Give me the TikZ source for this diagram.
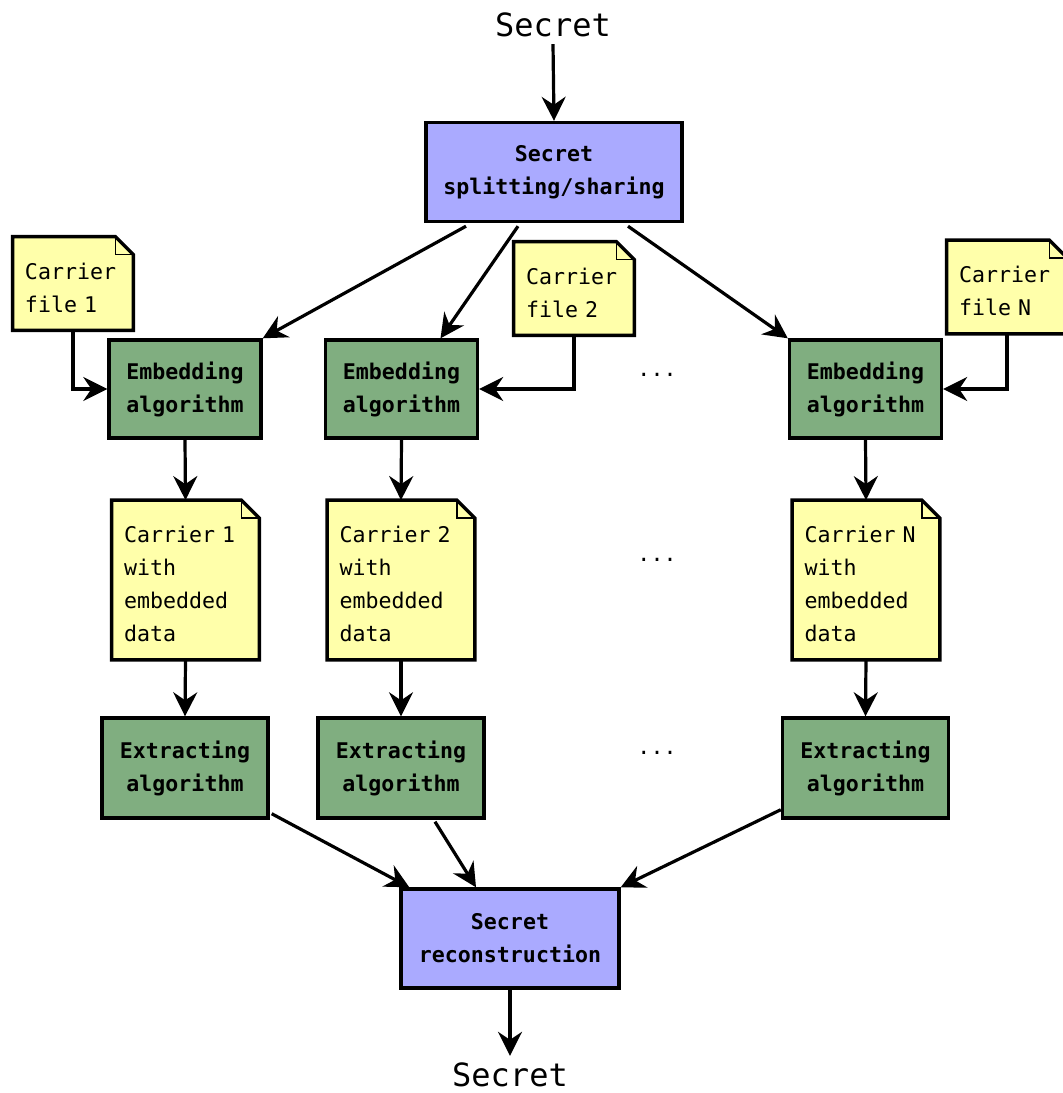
\documentclass[tikz,border=0pt]{standalone}
\usepackage{fontspec}
\setmonofont{DejaVu Sans Mono}
\usepackage{tikz}
\usetikzlibrary{arrows.meta,calc,backgrounds}
\definecolor{splitblue}{RGB}{170,170,255}
\definecolor{algogreen}{RGB}{128,174,128}
\definecolor{noteyellow}{RGB}{255,255,170}
\tikzstyle{line} = [draw, line width=1.6pt, -{Stealth[length=12pt,width=12pt,inset=4pt]}]
\tikzstyle{secretbox} = [rectangle, draw, line width=1.7pt, fill=splitblue, align=center, font=\ttfamily\bfseries\fontsize{10.8}{16.5}\selectfont]
\tikzstyle{algo} = [rectangle, draw, line width=1.7pt, fill=algogreen, align=center, font=\ttfamily\bfseries\fontsize{10.8}{16.5}\selectfont]
\tikzstyle{note} = [rectangle, inner xsep=6pt, align=left, font=\ttfamily\fontsize{10.8}{16.5}\selectfont]
\tikzstyle{plain} = [font=\ttfamily\fontsize{16}{18}\selectfont]

\begin{document}
\begin{tikzpicture}[x=0.5pt, y=-0.5pt]
	\useasboundingbox (0,0) rectangle (1062,1093);
	
	\node [plain] (secretin) at (553,25) {Secret};
	\node [secretbox, minimum width=128pt, minimum height=49.5pt] (split) at (554,172) {Secret\\splitting/sharing};
	
	\node [note, text width=48pt, minimum height=46.5pt] (cf1) at (73,287.5) {Carrier\\file 1};
	\node [note, text width=48pt, minimum height=46.5pt] (cf2) at (574,292.5) {Carrier\\file 2};
	\node [note, text width=48pt, minimum height=46.5pt] (cfN) at (1007,291) {Carrier\\file N};
	
	\node [algo, minimum width=76pt, minimum height=49pt] (emb1) at (185,389) {Embedding\\algorithm};
	\node [algo, minimum width=76pt, minimum height=49pt] (emb2) at (401.5,389) {Embedding\\algorithm};
	\node [algo, minimum width=76pt, minimum height=49pt] (embN) at (865.5,389) {Embedding\\algorithm};
	\node [note] (dots1) at (657,375) {...};
	
	\node [note, text width=61.5pt, minimum height=79.5pt] (cd1) at (185.5,584) {Carrier 1\\with\\embedded\\data};
	\node [note, text width=61.5pt, minimum height=79.5pt] (cd2) at (401,584) {Carrier 2\\with\\embedded\\data};
	\node [note, text width=61.5pt, minimum height=79.5pt] (cdN) at (866,584) {Carrier N\\with\\embedded\\data};
	\node [note] (dots2) at (657,560) {...};
	
	\node [algo, minimum width=83pt, minimum height=50pt] (ext1) at (185,768) {Extracting\\algorithm};
	\node [algo, minimum width=83pt, minimum height=50pt] (ext2) at (401,768) {Extracting\\algorithm};
	\node [algo, minimum width=83pt, minimum height=50pt] (extN) at (865.5,768) {Extracting\\algorithm};
	\node [note] (dots3) at (657,753) {...};
	
	\node [secretbox, minimum width=109pt, minimum height=49.5pt] (recon) at (510,938.5) {Secret\\reconstruction};
	\node [plain] (secretout) at (510,1075) {Secret};
	
	% paper sheets with a folded corner
	\begin{scope}[on background layer]
	\foreach \n in {cf1,cf2,cfN,cd1,cd2,cdN} {
		\draw [line width=1.7pt, fill=noteyellow] ($(\n.south west)+(0,-4)$) -- ($(\n.north west)+(0,-4)$) -- ($(\n.north east)+(-18,-4)$) -- ($(\n.north east)+(0,14)$) -- ($(\n.south east)+(0,-4)$) -- cycle;
		\draw [line width=0.8pt] ($(\n.north east)+(-18,-4)$) |- ($(\n.north east)+(0,14)$);
	}
	\end{scope}
	
	\path [line] (secretin.south) to (split.north);
	\path [line] ($(split.south)+(-88,3)$) to (emb1.north east);
	\path [line] ($(split.south)+(-36,3)$) to ($(emb2.north)+(39,0)$);
	\path [line] ($(split.south)+(74,3)$) to (embN.north west);
	
	\path [line] ($(cf1.south)+(0,-4)$) |- (emb1.west);
	\path [line] ($(cf2.south)+(0,-4)$) |- (emb2.east);
	\path [line] ($(cfN.south)+(0,-4)$) |- (embN.east);
	
	\path [line] (emb1.south) to ($(cd1.north)+(0,-4)$);
	\path [line] (emb2.south) to ($(cd2.north)+(0,-4)$);
	\path [line] (embN.south) to ($(cdN.north)+(0,-4)$);
	
	\path [line] ($(cd1.south)+(0,-4)$) to (ext1.north);
	\path [line] ($(cd2.south)+(0,-4)$) to (ext2.north);
	\path [line] ($(cdN.south)+(0,-4)$) to (extN.north);
	
	\path [line] ($(ext1.south east)+(2,-6)$) to ($(recon.north west)+(10,0)$);
	\path [line] ($(ext2.south)+(34,2)$) to ($(recon.north)+(-34,0)$);
	\path [line] ($(extN.south west)+(0,-10)$) to (recon.north east);
	
	\path [line] (recon.south) to (secretout.north);
\end{tikzpicture}
\end{document}
